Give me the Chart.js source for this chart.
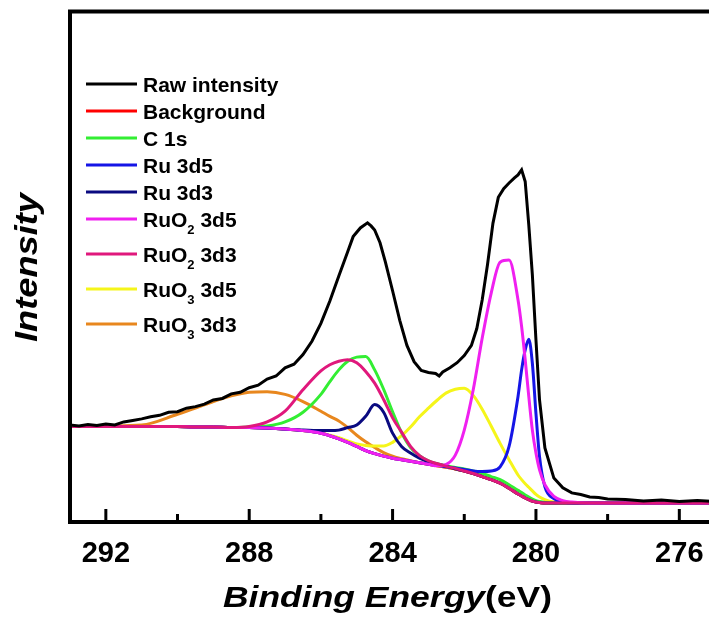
<!DOCTYPE html>
<html>
<head>
<meta charset="utf-8">
<script src="https://cdn.jsdelivr.net/npm/chart.js@4.4.0/dist/chart.umd.min.js"></script>
<style>
  html, body { margin: 0; padding: 0; background: #fff; overflow: hidden; }
  canvas { display: block; }
</style>
</head>
<body>
<canvas id="xps" width="751" height="618"></canvas>
<script>
// Binding energy grid (eV) shared by the fitted components
const energyGrid = [293, 291, 290, 289.5, 289, 288.5, 288, 287.5, 287, 286.5,
  286, 285.75, 285.5, 285.25, 285, 284.75, 284.5, 284.25, 284, 283.75,
  283.5, 283.25, 283, 282.75, 282.5, 282.25, 282, 281.75, 281.5, 281.25,
  281, 280.75, 280.5, 280.4, 280.3, 280.2, 280.1, 280, 279.9, 279.75,
  279.5, 279.25, 279, 278.5, 278, 277, 276, 275];

const background = [18.7, 18.7, 18.7, 18.6, 18.6, 18.5, 18.5, 18.4, 18.2, 17.9,
  17.4, 16.9, 16.3, 15.6, 14.8, 14.0, 13.4, 12.9, 12.5, 12.2,
  11.9, 11.6, 11.3, 11.0, 10.7, 10.4, 10.0, 9.5, 8.9, 8.3,
  7.6, 6.6, 5.5, 5.1, 4.7, 4.4, 4.1, 3.9, 3.8, 3.7,
  3.7, 3.7, 3.7, 3.7, 3.7, 3.7, 3.7, 3.7];

const c1s = [18.7, 18.7, 18.7, 18.6, 18.6, 18.5, 18.6, 18.8, 19.6, 21.5,
  25.0, 27.5, 29.8, 31.5, 32.3, 32.4, 29.8, 26.0, 21.6, 17.5,
  14.6, 13.0, 12.0, 11.4, 11.0, 10.7, 10.4, 10.0, 9.5, 8.9,
  8.3, 7.3, 6.2, 5.8, 5.3, 4.9, 4.5, 4.2, 4.0, 3.8,
  3.7, 3.7, 3.7, 3.7, 3.7, 3.7, 3.7, 3.7];

const ru3d5 = [18.7, 18.7, 18.7, 18.6, 18.6, 18.5, 18.5, 18.4, 18.2, 17.9,
  17.4, 16.9, 16.3, 15.6, 14.8, 14.0, 13.4, 12.9, 12.5, 12.2,
  11.9, 11.6, 11.3, 11.1, 10.8, 10.6, 10.3, 10.0, 9.9, 10.0,
  10.8, 14.8, 24.6, 29.8, 33.7, 35.8, 31.1, 21.3, 12.8, 6.9,
  4.6, 3.9, 3.7, 3.7, 3.7, 3.7, 3.7, 3.7];

const ru3d3 = [18.7, 18.7, 18.7, 18.6, 18.6, 18.5, 18.5, 18.4, 18.2, 18.0,
  17.9, 17.9, 18.0, 18.5, 19.0, 20.7, 23.0, 21.5, 17.4, 14.8,
  13.5, 12.5, 11.8, 11.3, 10.9, 10.4, 10.0, 9.5, 8.9, 8.3,
  7.6, 6.6, 5.5, 5.1, 4.7, 4.4, 4.1, 3.9, 3.8, 3.7,
  3.7, 3.7, 3.7, 3.7, 3.7, 3.7, 3.7, 3.7];

const ruo2_3d5 = [18.7, 18.7, 18.7, 18.6, 18.6, 18.5, 18.5, 18.4, 18.2, 17.9,
  17.4, 16.9, 16.3, 15.6, 14.8, 14.0, 13.4, 12.9, 12.5, 12.2,
  11.9, 11.6, 11.3, 11.0, 11.3, 13.1, 18.0, 25.9, 36.0, 44.8,
  50.9, 51.3, 43.5, 38.3, 31.8, 24.6, 18.0, 13.5, 10.2, 7.3,
  5.0, 4.2, 3.9, 3.7, 3.7, 3.7, 3.7, 3.7];

const ruo2_3d3 = [18.7, 18.7, 18.7, 18.6, 18.6, 18.5, 18.7, 19.6, 21.7, 25.9,
  29.6, 30.8, 31.5, 31.8, 31.2, 29.5, 27.2, 24.0, 20.4, 17.6,
  14.8, 13.0, 12.0, 11.4, 10.9, 10.5, 10.0, 9.5, 8.9, 8.3,
  7.6, 6.6, 5.5, 5.1, 4.7, 4.4, 4.1, 3.9, 3.8, 3.7,
  3.7, 3.7, 3.7, 3.7, 3.7, 3.7, 3.7, 3.7];

const ruo3_3d5 = [18.7, 18.7, 18.7, 18.6, 18.6, 18.5, 18.5, 18.4, 18.2, 17.9,
  17.5, 17.0, 16.5, 15.9, 15.3, 15.0, 14.9, 14.9, 15.6, 16.9,
  18.6, 20.6, 22.3, 23.9, 25.3, 26.0, 26.2, 24.8, 22.1, 18.8,
  15.4, 12.2, 9.2, 8.3, 7.5, 6.8, 6.1, 5.4, 4.9, 4.4,
  3.9, 3.7, 3.7, 3.7, 3.7, 3.7, 3.7, 3.7];

const ruo3_3d3 = [18.7, 19.0, 21.1, 22.3, 23.6, 24.7, 25.4, 25.5, 25.0, 23.6,
  21.7, 20.7, 19.8, 18.5, 17.0, 15.7, 14.6, 13.6, 12.9, 12.4,
  12.0, 11.6, 11.3, 11.0, 10.7, 10.4, 10.0, 9.5, 8.9, 8.3,
  7.6, 6.6, 5.5, 5.1, 4.7, 4.4, 4.1, 3.9, 3.8, 3.7,
  3.7, 3.7, 3.7, 3.7, 3.7, 3.7, 3.7, 3.7];

// measured spectrum
const rawEnergy = [293, 292.75, 292.5, 292.25, 292, 291.75, 291.5, 291.25, 291, 290.75,
  290.5, 290.25, 290, 289.75, 289.5, 289.25, 289, 288.75, 288.5, 288.25,
  288, 287.75, 287.5, 287.25, 287, 286.75, 286.5, 286.25, 286, 285.75,
  285.5, 285.25, 285.1, 284.9, 284.7, 284.6, 284.5, 284.35, 284.2, 284,
  283.8, 283.6, 283.4, 283.2, 283, 282.8, 282.7, 282.6, 282.4, 282.2,
  282, 281.8, 281.65, 281.5, 281.35, 281.2, 281.05, 280.9, 280.75, 280.6,
  280.5, 280.4, 280.3, 280.2, 280.1, 280, 279.9, 279.75, 279.5, 279.25,
  279, 278.75, 278.5, 278.25, 278, 277.5, 277, 276.5, 276, 275.5,
  275, 274.5, 274];
const rawIntensity = [19.0, 18.8, 19.1, 18.9, 19.2, 19.0, 19.6, 19.9, 20.2, 20.6,
  20.9, 21.5, 21.6, 22.3, 22.6, 23.1, 23.9, 24.2, 25.1, 25.4,
  26.3, 26.8, 28.0, 28.6, 30.2, 30.9, 32.8, 35.4, 38.9, 43.3,
  48.2, 53.0, 55.9, 57.6, 58.6, 58.0, 57.2, 54.7, 50.9, 45.3,
  39.5, 34.6, 31.4, 29.7, 29.3, 29.1, 28.6, 29.4, 30.2, 31.2,
  32.6, 34.6, 37.9, 43.5, 50.5, 58.5, 63.6, 65.3, 66.4, 67.4,
  68.0, 69.0, 66.7, 58.2, 48.4, 35.7, 23.9, 14.5, 8.6, 6.7,
  5.7, 5.4, 4.9, 4.8, 4.5, 4.4, 4.1, 4.3, 4.0, 4.2,
  4.0, 4.1, 4.0];

const seriesLabels = ['Raw intensity', 'Background', 'C 1s', 'Ru 3d5', 'Ru 3d3',
  'RuO_2 3d5', 'RuO_2 3d3', 'RuO_3 3d5', 'RuO_3 3d3'];
const tickValues = [292, 288, 284, 280, 276];
const minorTickValues = [290, 286, 282, 278];

const FONT = '"Liberation Sans", Arial, sans-serif';

const curves = [
  { ys: rawIntensity, xs: rawEnergy, color: '#000000', order: 0 },
  { ys: background, color: '#ff0000', order: 8 },
  { ys: c1s, color: '#33ee33', order: 5 },
  { ys: ru3d5, color: '#1515e6', order: 3 },
  { ys: ru3d3, color: '#0a0a80', order: 4 },
  { ys: ruo2_3d5, color: '#f020f0', order: 2 },
  { ys: ruo2_3d3, color: '#e0187c', order: 1 },
  { ys: ruo3_3d5, color: '#f5f51a', order: 6 },
  { ys: ruo3_3d3, color: '#e8871e', order: 7 }
];

const datasets = curves.map((c, i) => {
  const xs = c.xs || energyGrid;
  return {
    label: seriesLabels[i],
    data: xs.map((x, j) => ({ x: x, y: c.ys[j] })),
    borderColor: c.color,
    borderWidth: 3,
    pointRadius: 0,
    fill: false,
    cubicInterpolationMode: c.xs ? 'default' : 'monotone',
    tension: 0,
    order: c.order
  };
});

// draws text, stretched horizontally to a given width
function drawFitted(ctx, parts, x, y, width) {
  let total = 0;
  parts.forEach(p => { ctx.font = p.font; total += ctx.measureText(p.text).width; });
  ctx.save();
  ctx.translate(x, y);
  ctx.scale(width / total, 1);
  let cx = 0;
  parts.forEach(p => {
    ctx.font = p.font;
    ctx.fillText(p.text, cx, 0);
    cx += ctx.measureText(p.text).width;
  });
  ctx.restore();
}

const decorPlugin = {
  id: 'decor',
  afterDraw(chart) {
    const ctx = chart.ctx;
    const a = chart.chartArea;
    const xs = chart.scales.x;
    ctx.save();

    // frame (right side falls outside the picture)
    ctx.strokeStyle = '#000';
    ctx.lineWidth = 4;
    ctx.lineJoin = 'miter';
    ctx.beginPath();
    ctx.moveTo(a.right + 20, a.top);
    ctx.lineTo(a.left, a.top);
    ctx.lineTo(a.left, a.bottom);
    ctx.lineTo(a.right + 20, a.bottom);
    ctx.stroke();

    // inward ticks on the bottom axis
    ctx.lineWidth = 3;
    ctx.lineCap = 'butt';
    tickValues.forEach(v => {
      const px = xs.getPixelForValue(v);
      ctx.beginPath(); ctx.moveTo(px, a.bottom); ctx.lineTo(px, a.bottom - 13); ctx.stroke();
    });
    minorTickValues.forEach(v => {
      const px = xs.getPixelForValue(v);
      ctx.beginPath(); ctx.moveTo(px, a.bottom); ctx.lineTo(px, a.bottom - 8); ctx.stroke();
    });

    // axis titles
    ctx.fillStyle = '#000';
    ctx.textBaseline = 'alphabetic';
    ctx.textAlign = 'left';
    drawFitted(ctx, [
      { text: 'Binding Energy', font: 'italic bold 30px ' + FONT },
      { text: '(eV)', font: 'bold 30px ' + FONT }
    ], 223, 606.5, 329);

    ctx.save();
    ctx.translate(37, 267.5);
    ctx.rotate(-Math.PI / 2);
    drawFitted(ctx, [{ text: 'Intensity', font: 'italic bold 32px ' + FONT }], -74.5, 0, 149);
    ctx.restore();

    // legend
    let rowY = 84;
    chart.data.datasets.forEach(ds => {
      ctx.strokeStyle = ds.borderColor;
      ctx.lineWidth = 3;
      ctx.beginPath(); ctx.moveTo(86, rowY); ctx.lineTo(137, rowY); ctx.stroke();
      const m = ds.label.match(/^(.*)_(\d)(.*)$/);
      const base = rowY + 7.5;
      ctx.fillStyle = '#000';
      ctx.font = 'bold 21px ' + FONT;
      if (m) {
        ctx.fillText(m[1], 143, base);
        let cx = 143 + ctx.measureText(m[1]).width;
        ctx.font = 'bold 13px ' + FONT;
        ctx.fillText(m[2], cx, base + 7);
        cx += ctx.measureText(m[2]).width;
        ctx.font = 'bold 21px ' + FONT;
        ctx.fillText(m[3], cx, base);
        rowY += 35;
      } else {
        ctx.fillText(ds.label, 143, base);
        rowY += 27;
      }
    });

    ctx.restore();
  }
};

new Chart(document.getElementById('xps'), {
  type: 'line',
  data: { datasets: datasets },
  options: {
    responsive: false,
    animation: false,
    devicePixelRatio: 1,
    layout: { padding: { left: 70, top: 11.5, right: 0, bottom: 0 } },
    plugins: { legend: { display: false }, tooltip: { enabled: false } },
    scales: {
      x: {
        type: 'linear',
        reverse: true,
        min: 274,
        max: 293,
        grid: { display: false, drawTicks: false },
        border: { display: false },
        afterBuildTicks: s => { s.ticks = tickValues.map(v => ({ value: v })); },
        afterFit: s => { s.height = 96; },
        ticks: {
          color: '#000',
          padding: 15,
          maxRotation: 0,
          font: { family: FONT, size: 29, weight: 'bold' }
        }
      },
      y: {
        display: false,
        min: 0,
        max: 100
      }
    }
  },
  plugins: [decorPlugin]
});
</script>
</body>
</html>
